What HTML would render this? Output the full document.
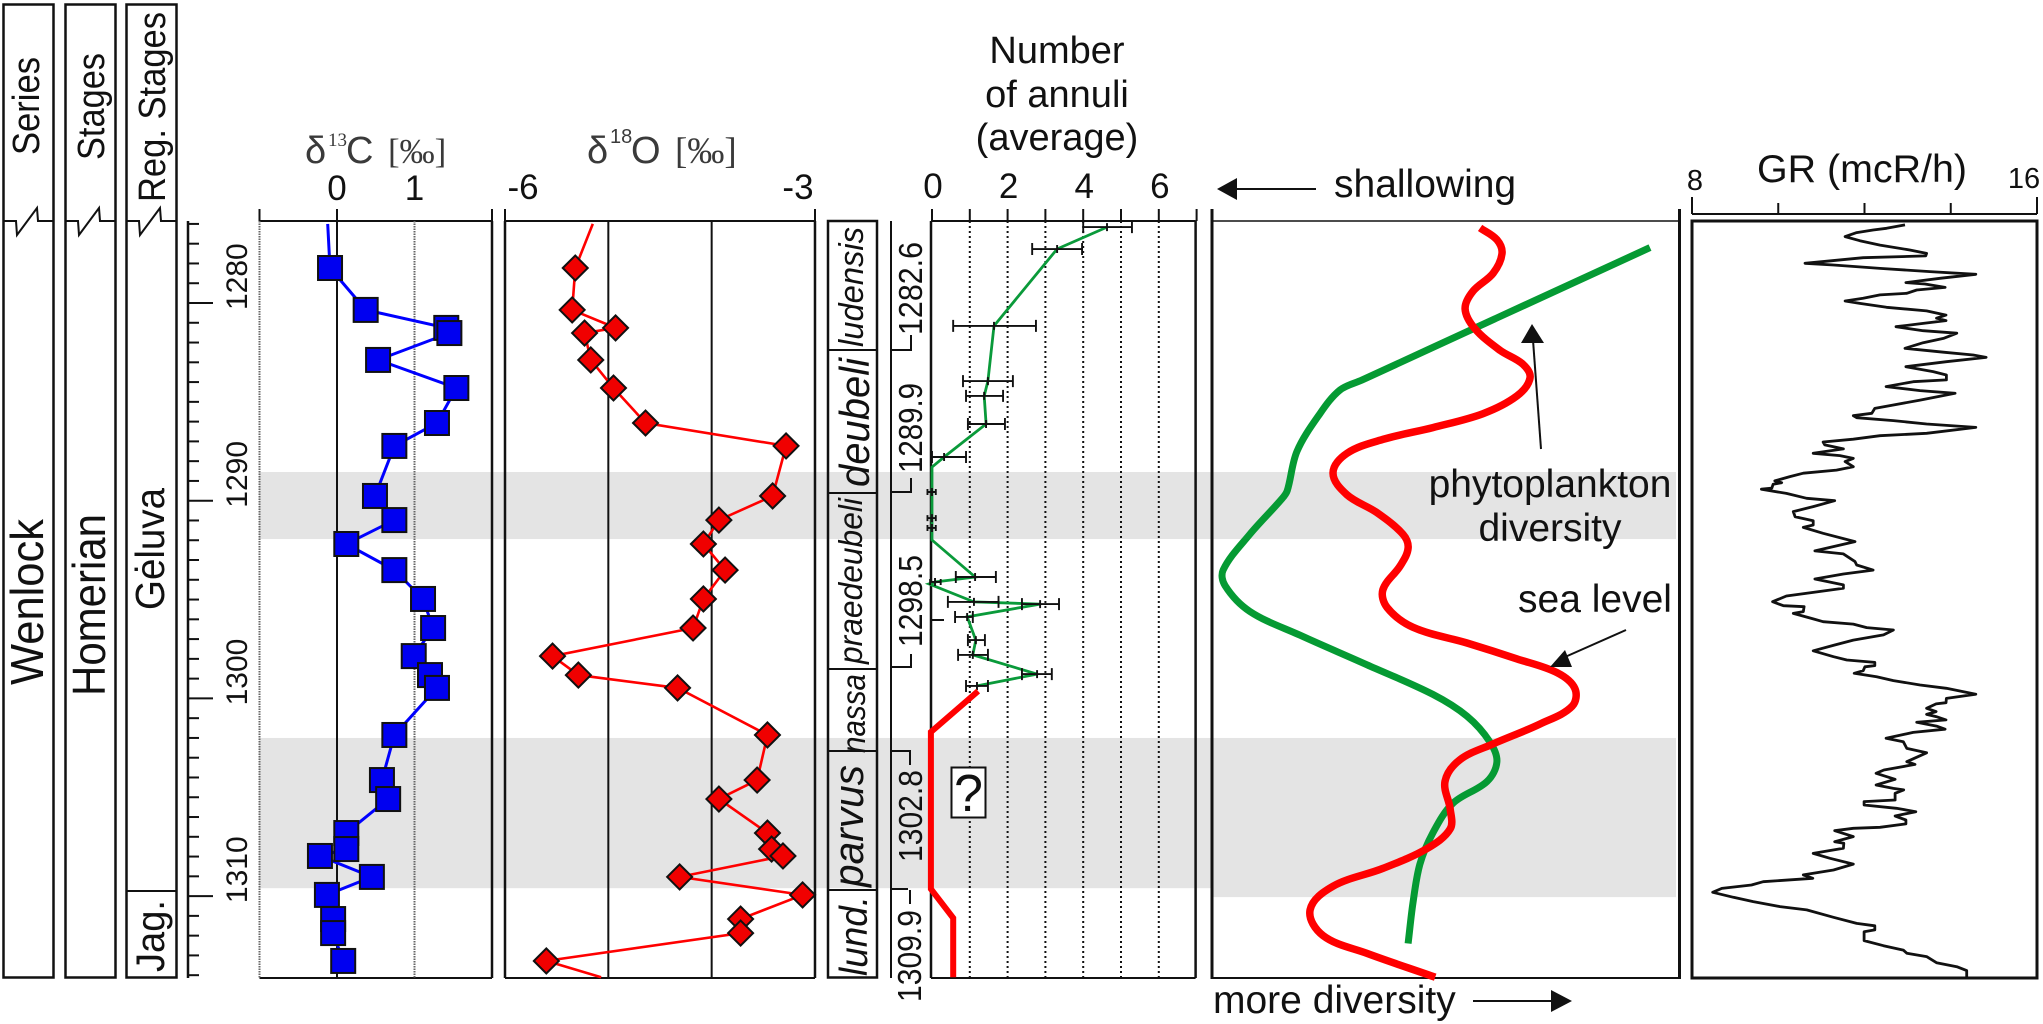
<!DOCTYPE html>
<html lang="en">
<head>
<meta charset="utf-8">
<title>Wenlock Homerian composite log</title>
<style>
html,body{margin:0;padding:0;background:#fff;width:2043px;height:1024px;overflow:hidden}
svg{display:block;font-family:"Liberation Sans",sans-serif}
</style>
</head>
<body>
<svg id="chart" xmlns="http://www.w3.org/2000/svg" width="2043" height="1024" viewBox="0 0 2043 1024">
  <g id="bands"></g>

  <g fill="none" stroke="#111" stroke-width="2.5">
    <rect x="3.5" y="4.5" width="50" height="973"/>
    <rect x="65.5" y="4.5" width="50" height="973"/>
    <rect x="126.5" y="4.5" width="50" height="973"/>
    <line x1="126" y1="891" x2="176" y2="891" stroke-width="2"/>
    <polyline stroke-width="2" points="3,221 16,221 17,235 37,208 38,221 53,221"/>
    <polyline stroke-width="2" points="65,221 78,221 79,235 99,208 100,221 115,221"/>
    <polyline stroke-width="2" points="126,221 139,221 140,235 160,208 161,221 176,221"/>
  </g>
  <g fill="#111">
    <text transform="translate(39,155) rotate(-90)" font-size="38" textLength="98" lengthAdjust="spacingAndGlyphs">Series</text>
    <text transform="translate(104,160) rotate(-90)" font-size="38" textLength="107" lengthAdjust="spacingAndGlyphs">Stages</text>
    <text transform="translate(165,202) rotate(-90)" font-size="38" textLength="190" lengthAdjust="spacingAndGlyphs">Reg. Stages</text>
    <text transform="translate(43,685) rotate(-90)" font-size="46" textLength="166" lengthAdjust="spacingAndGlyphs">Wenlock</text>
    <text transform="translate(105,696) rotate(-90)" font-size="46" textLength="182" lengthAdjust="spacingAndGlyphs">Homerian</text>
    <text transform="translate(164,610) rotate(-90)" font-size="41" textLength="122" lengthAdjust="spacingAndGlyphs">Gėluva</text>
    <text transform="translate(164,972) rotate(-90)" font-size="40" textLength="72" lengthAdjust="spacingAndGlyphs">Jag.</text>
  </g>

  <g id="depthAxis"></g>

  <g id="c13Axis"></g>
  <text x="305" y="163" font-size="38" fill="#3a3a3a">δ<tspan x="328" y="146" font-size="19" font-family="Liberation Serif">13</tspan><tspan x="346" y="163">C</tspan><tspan x="388" y="163" font-size="35" font-family="Liberation Serif">[‰]</tspan></text>
  <g id="c13Series"></g>

  <g id="o18Axis"></g>
  <text x="587" y="163" font-size="38" fill="#3a3a3a">δ<tspan x="610" y="143" font-size="20">18</tspan><tspan x="631" y="163">O</tspan><tspan x="675" y="163" font-size="37" font-family="Liberation Serif">[‰]</tspan></text>
  <g id="o18Series"></g>

  <g>
    <rect x="828" y="221" width="49" height="756.5" fill="none" stroke="#111" stroke-width="2.5"/>
    <g stroke="#111" stroke-width="2">
      <line x1="828" y1="350" x2="877" y2="350"/>
      <line x1="828" y1="493" x2="877" y2="493"/>
      <line x1="828" y1="669" x2="877" y2="669"/>
      <line x1="828" y1="751" x2="877" y2="751"/>
      <line x1="828" y1="890" x2="877" y2="890"/>
    </g>
    <g fill="#111" font-style="italic">
      <text transform="translate(863,347) rotate(-90)" font-size="34" textLength="120" lengthAdjust="spacingAndGlyphs">ludensis</text>
      <text transform="translate(869,487) rotate(-90)" font-size="42" textLength="129" lengthAdjust="spacingAndGlyphs">deubeli</text>
      <text transform="translate(862,664) rotate(-90)" font-size="33" textLength="166" lengthAdjust="spacingAndGlyphs">praedeubeli</text>
      <text transform="translate(865,753) rotate(-90)" font-size="33" textLength="79" lengthAdjust="spacingAndGlyphs">nassa</text>
      <text transform="translate(863,887) rotate(-90)" font-size="42" textLength="122" lengthAdjust="spacingAndGlyphs">parvus</text>
      <text transform="translate(867,976) rotate(-90)" font-size="39" textLength="80" lengthAdjust="spacingAndGlyphs">lund.</text>
    </g>
  </g>

  <g>
    <line x1="891" y1="221" x2="891" y2="978" stroke="#111" stroke-width="2"/>
    <g fill="none" stroke="#111" stroke-width="2">
      <polyline points="891,350 911,350 911,335"/>
      <polyline points="891,492 911,492 911,478"/>
      <polyline points="891,667 911,667 911,654"/>
      <polyline points="891,751 910,751 910,765"/>
      <polyline points="891,889 908,889"/>
      <line x1="910" y1="890" x2="910" y2="904"/>
      <line x1="931" y1="620" x2="944" y2="620"/>
    </g>
    <g fill="#111" font-size="33">
      <text transform="translate(922,335) rotate(-90)" textLength="93" lengthAdjust="spacingAndGlyphs">1282.6</text>
      <text transform="translate(922,473) rotate(-90)" textLength="90" lengthAdjust="spacingAndGlyphs">1289.9</text>
      <text transform="translate(922,647) rotate(-90)" textLength="92" lengthAdjust="spacingAndGlyphs">1298.5</text>
      <text transform="translate(922,862) rotate(-90)" textLength="92" lengthAdjust="spacingAndGlyphs">1302.8</text>
      <text transform="translate(921,1002) rotate(-90)" textLength="92" lengthAdjust="spacingAndGlyphs">1309.9</text>
    </g>
  </g>

  <g id="annuliAxis"></g>
  <g fill="#111" font-size="38" text-anchor="middle">
    <text x="1057" y="63">Number</text>
    <text x="1057" y="107">of annuli</text>
    <text x="1057" y="150">(average)</text>
  </g>
  <g id="annuliSeries"></g>
  <g>
    <rect x="951.5" y="767.5" width="34" height="50" fill="#fff" stroke="#111" stroke-width="2"/>
    <text x="968.5" y="811" font-size="52" text-anchor="middle" fill="#111">?</text>
  </g>

  <g>
    <g stroke="#111" fill="none">
      <line x1="1212" y1="221" x2="1680" y2="221" stroke-width="1.5"/>
      <line x1="1212" y1="978" x2="1680" y2="978" stroke-width="2"/>
      <line x1="1212" y1="209" x2="1212" y2="979" stroke-width="3"/>
      <line x1="1679.5" y1="209" x2="1679.5" y2="979" stroke-width="3"/>
    </g>
    <g id="diversitySeries"></g>
    <g>
      <line x1="1316" y1="189" x2="1235" y2="189" stroke="#111" stroke-width="2"/>
      <polygon points="1217,189 1237,178 1237,200" fill="#111"/>
      <text x="1334" y="197" font-size="39" fill="#111">shallowing</text>
      <text x="1213" y="1013" font-size="39" fill="#111">more diversity</text>
      <line x1="1473" y1="1001" x2="1553" y2="1001" stroke="#111" stroke-width="2"/>
      <polygon points="1572,1001 1551,990 1551,1012" fill="#111"/>
      <line x1="1541" y1="449" x2="1533" y2="340" stroke="#111" stroke-width="2"/>
      <polygon points="1532,324 1521,343 1544,343" fill="#111"/>
      <text x="1550" y="497" font-size="39" fill="#111" text-anchor="middle">phytoplankton</text>
      <text x="1550" y="541" font-size="39" fill="#111" text-anchor="middle">diversity</text>
      <text x="1518" y="612" font-size="39" fill="#111">sea level</text>
      <line x1="1626" y1="630" x2="1565" y2="657" stroke="#111" stroke-width="2"/>
      <polygon points="1550,667 1565,650 1572,667" fill="#111"/>
    </g>
  </g>

  <g>
    <rect x="1692" y="221" width="345" height="757" fill="none" stroke="#111" stroke-width="3"/>
    <g id="grAxis"></g>
    <text x="1757" y="182" font-size="39" fill="#111" textLength="210" lengthAdjust="spacingAndGlyphs">GR (mcR/h)</text>
    <g id="grSeries"></g>
  </g>
</svg>

<script>
// ---- data ----
const bandTop = [1288.55, 1302.0];
const bandBottomLeft = [1291.94, 1309.6];
const bandBottomRight = [1291.94, 1310.05];
const depthTickLabels = [1280, 1290, 1300, 1310];
const depthDomain = [1276, 1314];

const sampleDepths = [1276.0,1278.23,1280.35,1281.26,1281.52,1282.88,1284.30,1286.07,1287.23,1289.76,1290.98,1292.19,1293.51,1294.97,1296.44,1297.86,1298.82,1299.47,1301.85,1304.13,1305.09,1306.81,1307.62,1307.97,1309.03,1309.94,1311.16,1311.87,1313.28,1314.1];
const c13Values = [-0.12,-0.09,0.37,1.41,1.45,0.53,1.54,1.29,0.74,0.49,0.74,0.12,0.74,1.11,1.24,0.99,1.20,1.29,0.74,0.58,0.66,0.12,0.12,-0.22,0.45,-0.13,-0.05,-0.05,0.08];
const o18Values = [-5.15,-5.32,-5.35,-4.93,-5.23,-5.17,-4.95,-4.64,-3.28,-3.41,-3.93,-4.08,-3.87,-4.08,-4.18,-5.54,-5.29,-4.33,-3.46,-3.56,-3.93,-3.46,-3.42,-3.31,-4.31,-3.12,-3.72,-3.72,-5.60,-5.07];
const c13TickLabels = [0, 1];
const o18TickLabels = [-6, -3];
const o18GridValues = [-5, -4];

const annuliDepths = [1276.16,1277.27,1281.16,1283.95,1284.70,1286.12,1287.79,1288.30,1289.56,1290.88,1291.38,1291.99,1293.86,1294.11,1294.21,1295.12,1295.23,1295.88,1297.05,1297.80,1298.77,1299.37];
const annuliMeans = [4.63,3.31,1.64,1.48,1.38,1.43,0.32,0,0,0,0,0,1.14,0.08,-0.08,1.11,2.86,0.93,1.16,1.08,2.78,1.19];
const annuliLow = [4.0,2.65,0.56,0.82,0.9,0.95,0,null,-0.12,-0.12,-0.12,null,0.63,-0.05,null,0.42,2.38,0.61,0.95,0.69,2.38,0.9];
const annuliHigh = [5.29,3.97,2.75,2.14,1.88,1.93,0.9,null,0.1,0.1,0.1,null,1.69,0.23,null,1.76,3.36,1.08,1.40,1.48,3.17,1.48];
const annuliUnknownDepths = [1299.63,1301.7,1309.64,1311.11,1314.1];
const annuliUnknownValues = [1.22,-0.03,-0.03,0.56,0.56];
const annuliTickLabels = [0,2,4,6];
const annuliGridValues = [1,2,3,4,5,6];
const annuliTickValues = [0,1,2,3,4,5,6,7];

const diversityDepths = [1277.2,1280.8,1283.9,1284.4,1285.6,1287.5,1289.5,1289.9,1291.7,1293.5,1294.3,1295.6,1296.8,1298.3,1299.8,1300.9,1302.2,1303.2,1304.2,1305.3,1306.8,1308.4,1310.4,1312.4];
const diversityValues = [93.8,60.6,32.1,27.4,23.1,18.2,16.1,15.0,8.1,2.4,2.8,8.1,18.8,33.2,47.3,54.6,59.5,61.0,58.9,51.6,47.3,44.5,43.0,42.0];
const seaLevelDepths = [1276.2,1276.8,1277.5,1278.5,1279.4,1280.3,1281.3,1282.4,1283.1,1283.8,1284.7,1285.6,1286.3,1286.9,1287.6,1288.6,1289.7,1290.6,1291.7,1292.4,1293.3,1294.5,1295.4,1296.4,1297.2,1298.0,1298.7,1299.5,1300.4,1301.3,1302.3,1303.1,1304.2,1305.6,1306.6,1307.6,1308.6,1309.5,1310.7,1312.0,1312.9,1314.1];
const seaLevelValues = [57.4,61.0,62.1,60.2,55.9,54.2,56.3,61.7,66.6,68.1,65.3,58.0,47.3,36.6,28.9,25.9,28.9,35.3,40.9,42.0,40.3,36.6,37.5,43.0,54.6,65.3,73.9,77.7,77.1,70.2,60.2,53.1,49.9,51.0,51.0,46.0,36.6,25.9,21.0,23.8,33.2,47.8];

const grTickLabels = [8,16];
const grTickValues = [8,10,12,14,16];
const grDepths = [1276.05,1276.22,1276.31,1276.44,1276.64,1276.85,1277.07,1277.32,1277.49,1277.62,1277.71,1277.99,1278.08,1278.25,1278.41,1278.55,1278.75,1278.97,1279.04,1279.21,1279.34,1279.51,1279.59,1279.76,1279.90,1280.02,1280.22,1280.40,1280.61,1280.77,1280.89,1281.03,1281.20,1281.40,1281.53,1281.79,1282.01,1282.29,1282.49,1282.63,1282.75,1282.97,1283.22,1283.47,1283.64,1283.89,1283.98,1284.23,1284.43,1284.57,1284.91,1285.16,1285.33,1285.58,1285.70,1285.80,1285.95,1286.12,1286.29,1286.59,1286.71,1286.89,1287.03,1287.18,1287.38,1287.60,1287.72,1287.86,1288.02,1288.28,1288.45,1288.61,1288.78,1289.00,1289.09,1289.17,1289.37,1289.42,1289.63,1289.88,1290.00,1290.30,1290.55,1290.81,1291.01,1291.23,1291.35,1291.65,1292.07,1292.54,1292.69,1293.08,1293.25,1293.51,1293.71,1293.96,1294.26,1294.43,1294.64,1294.82,1295.11,1295.31,1295.36,1295.61,1295.70,1295.98,1296.12,1296.24,1296.42,1296.54,1296.79,1297.05,1297.30,1297.59,1297.89,1298.06,1298.18,1298.34,1298.40,1298.60,1298.73,1298.90,1299.10,1299.32,1299.49,1299.79,1300.00,1300.22,1300.28,1300.50,1300.67,1300.81,1300.92,1301.09,1301.21,1301.40,1301.56,1301.72,1302.02,1302.19,1302.53,1302.75,1303.20,1303.34,1303.62,1303.79,1304.09,1304.38,1304.55,1304.63,1304.80,1305.14,1305.22,1305.39,1305.56,1305.73,1305.95,1306.15,1306.35,1306.52,1306.57,1306.69,1306.99,1307.25,1307.33,1307.58,1307.84,1308.09,1308.38,1308.68,1308.93,1309.10,1309.27,1309.44,1309.61,1309.81,1310.06,1310.28,1310.53,1310.70,1311.07,1311.38,1311.50,1311.71,1311.80,1312.25,1312.51,1312.73,1312.89,1313.06,1313.37,1313.57,1313.77,1314.07];
const grValues = [12.94,12.51,12.20,11.82,11.55,11.89,12.36,13.05,13.44,13.42,11.97,10.62,11.28,12.36,13.52,14.58,13.75,12.96,13.40,13.87,13.21,12.98,12.36,11.97,11.55,11.89,12.51,13.44,13.89,13.67,13.89,13.36,12.73,13.36,14.14,13.83,13.36,12.94,13.83,14.52,14.82,13.90,12.96,13.59,13.90,13.90,13.13,12.50,13.29,14.10,13.29,12.67,12.24,12.17,11.74,11.82,12.67,13.44,14.58,13.44,12.36,11.74,11.04,11.08,11.51,10.81,11.43,11.74,11.55,11.74,11.35,10.58,10.27,9.92,10.08,9.88,9.85,9.61,10.19,10.66,11.31,10.81,10.35,10.39,10.81,10.81,10.58,11.04,11.78,10.85,11.51,11.78,11.82,12.20,11.51,10.85,11.51,11.51,10.81,10.19,9.87,10.12,10.60,10.58,10.35,10.81,11.04,11.74,12.05,12.67,12.44,11.74,11.31,10.81,11.28,11.59,12.24,12.24,12.01,11.97,11.76,12.28,12.67,13.29,13.90,14.58,13.90,13.89,13.66,13.44,13.66,13.44,13.66,13.89,13.21,13.67,13.87,13.13,12.50,12.90,12.98,13.44,12.98,13.17,12.45,12.27,12.71,12.27,12.67,12.91,12.71,12.71,11.99,11.99,12.74,13.19,12.71,12.96,12.96,12.36,11.74,11.31,11.74,11.31,11.52,11.51,10.81,11.20,11.74,11.28,10.58,10.80,9.65,9.38,8.69,8.48,8.96,9.42,10.04,10.66,11.28,11.82,12.24,12.24,11.99,11.99,12.44,12.90,12.98,13.44,13.67,14.14,14.37,14.37];

// ---- axis functions ----
const yDepth = d => 303 + (d - 1280) * 19.77;
const xC13 = v => 337 + v * 77.5;
const xO18 = v => 505 + (v + 6) * 103.33;
const xAnnuli = v => 932 + v * 37.8;
const xDiversity = v => 1212 + v * 4.67;
const xGR = v => 1692 + (v - 8) * 43.125;

const NS = 'http://www.w3.org/2000/svg';
function make(tag, attrs, parent) {
  const el = document.createElementNS(NS, tag);
  for (const k in attrs) el.setAttribute(k, attrs[k]);
  parent.appendChild(el);
  return el;
}
const byId = id => document.getElementById(id);
function pointsOf(depths, values, xFn) {
  return values.map((v, i) => xFn(v).toFixed(1) + ',' + yDepth(depths[i]).toFixed(1)).join(' ');
}
function smoothPath(depths, values, xFn) {
  const p = values.map((v, i) => [xFn(v), yDepth(depths[i])]);
  const tangent = i => {
    const a = p[Math.max(0, i - 1)], c = p[Math.min(p.length - 1, i + 1)];
    const dx = c[0] - a[0], dy = c[1] - a[1], len = Math.hypot(dx, dy) || 1;
    return [dx / len, dy / len];
  };
  let d = 'M' + p[0][0].toFixed(1) + ' ' + p[0][1].toFixed(1);
  for (let i = 0; i < p.length - 1; i++) {
    const b = p[i], c = p[i + 1];
    const seg = Math.hypot(c[0] - b[0], c[1] - b[1]) / 3;
    const t0 = tangent(i), t1 = tangent(i + 1);
    d += 'C' + (b[0] + t0[0] * seg).toFixed(1) + ' ' + (b[1] + t0[1] * seg).toFixed(1) + ' ' +
      (c[0] - t1[0] * seg).toFixed(1) + ' ' + (c[1] - t1[1] * seg).toFixed(1) + ' ' + c[0].toFixed(1) + ' ' + c[1].toFixed(1);
  }
  return d;
}

// ---- grey bands ----
bandTop.forEach((top, i) => {
  const left = make('rect', {x: 259, y: yDepth(top), width: 953, height: yDepth(bandBottomLeft[i]) - yDepth(top), fill: '#e4e4e4'}, byId('bands'));
  
  
  const right = make('rect', {x: 1212, y: yDepth(top), width: 464, height: yDepth(bandBottomRight[i]) - yDepth(top), fill: '#e4e4e4'}, byId('bands'));
  
  
});

// ---- depth axis ----
const depthLine = make('line', {x1: 188, y1: 221, x2: 188, y2: 978, stroke: '#111', 'stroke-width': 2.5}, byId('depthAxis'));


for (let d = depthDomain[0]; d <= depthDomain[1]; d++) {
  const major = depthTickLabels.includes(d);
  const tick = make('line', {x1: 188, x2: major ? 213 : 199, y1: yDepth(d), y2: yDepth(d), stroke: '#111', 'stroke-width': 2}, byId('depthAxis'));
  
  
}
depthTickLabels.forEach(d => {
  const t = make('text', {transform: 'translate(247,' + (yDepth(d) + 7) + ') rotate(-90)', 'font-size': 30, fill: '#111'}, byId('depthAxis'));
  t.textContent = d;
  
  
});

// ---- axis frames ----
function frame(group, x0, x1, tickXs, leftStyle) {
  const top = make('line', {x1: x0, x2: x1, y1: 221, y2: 221, stroke: '#111', 'stroke-width': 2}, group);
  
  
  const bottom = make('line', {x1: x0, x2: x1, y1: 978, y2: 978, stroke: '#111', 'stroke-width': 2}, group);
  
  
  tickXs.forEach(x => {
    const t = make('line', {x1: x, x2: x, y1: 209, y2: 221, stroke: '#111', 'stroke-width': 2}, group);
    
    
  });
  const l = make('line', Object.assign({x1: x0, x2: x0, y1: 221, y2: 978}, leftStyle), group);
  
  
  const r = make('line', {x1: x1, x2: x1, y1: 221, y2: 978, stroke: '#111', 'stroke-width': 2.5}, group);
  
  
}
function tickText(group, x, y, label, size) {
  const t = make('text', {x: x, y: y, 'font-size': size, 'text-anchor': 'middle', fill: '#111'}, group);
  t.textContent = label;
  
  
}

// carbon isotopes
frame(byId('c13Axis'), xC13(-1), 492, [xC13(-1), xC13(0), 492], {stroke: '#666', 'stroke-width': 2, 'stroke-dasharray': '1.5 1'});
const c13Grid = make('line', {x1: xC13(1), x2: xC13(1), y1: 221, y2: 978, stroke: '#666', 'stroke-width': 2, 'stroke-dasharray': '1.5 1'}, byId('c13Axis'));


const c13Zero = make('line', {x1: xC13(0), x2: xC13(0), y1: 221, y2: 978, stroke: '#111', 'stroke-width': 2}, byId('c13Axis'));


c13TickLabels.forEach(v => tickText(byId('c13Axis'), xC13(v), 200, v, 35));

const c13Line = make('polyline', {points: pointsOf(sampleDepths, c13Values, xC13), fill: 'none', stroke: '#0000ff', 'stroke-width': 3}, byId('c13Series'));


c13Values.forEach((v, i) => {
  if (i === 0) return;
  const m = make('rect', {x: xC13(v) - 12, y: yDepth(sampleDepths[i]) - 12, width: 24, height: 24, fill: '#0000f0', stroke: '#111', 'stroke-width': 2}, byId('c13Series'));
  
  
});

// oxygen isotopes
frame(byId('o18Axis'), xO18(-6), xO18(-3), [xO18(-6), xO18(-3)], {stroke: '#111', 'stroke-width': 2.5});
o18GridValues.forEach(v => {
  const g = make('line', {x1: xO18(v), x2: xO18(v), y1: 221, y2: 978, stroke: '#111', 'stroke-width': 2}, byId('o18Axis'));
  
  
});
o18TickLabels.forEach(v => tickText(byId('o18Axis'), xO18(v) + (v === -6 ? 18 : -17), 199, String(v), 35));

const o18Line = make('polyline', {points: pointsOf(sampleDepths, o18Values, xO18), fill: 'none', stroke: '#ff0000', 'stroke-width': 2.6}, byId('o18Series'));


o18Values.forEach((v, i) => {
  if (i === 0 || i === o18Values.length - 1) return;
  const cx = xO18(v), cy = yDepth(sampleDepths[i]), r = 12.5;
  const m = make('polygon', {points: [cx - r, cy, cx, cy - r, cx + r, cy, cx, cy + r].join(' '), fill: '#f00000', stroke: '#111', 'stroke-width': 2}, byId('o18Series'));
  
  
});

// annuli
frame(byId('annuliAxis'), xAnnuli(0) - 1, xAnnuli(7) - 1, annuliTickValues.map(xAnnuli), {stroke: '#111', 'stroke-width': 2.5});
annuliGridValues.forEach(v => {
  const g = make('line', {x1: xAnnuli(v), x2: xAnnuli(v), y1: 221, y2: 978, stroke: '#111', 'stroke-width': 2, 'stroke-dasharray': '2 3'}, byId('annuliAxis'));
  
  
});
annuliTickLabels.forEach(v => tickText(byId('annuliAxis'), xAnnuli(v) + 1, 198, v, 35));

const annuliLine = make('polyline', {points: pointsOf(annuliDepths, annuliMeans, xAnnuli), fill: 'none', stroke: '#0a9a3a', 'stroke-width': 2.8}, byId('annuliSeries'));


annuliMeans.forEach((v, i) => {
  if (annuliLow[i] === null) return;
  const y = yDepth(annuliDepths[i]);
  const cap = annuliHigh[i] - annuliLow[i] < 0.4 ? 3 : 6;
  const bar = make('path', {d: 'M' + xAnnuli(annuliLow[i]) + ' ' + y + 'H' + xAnnuli(annuliHigh[i]) +
    'M' + xAnnuli(annuliLow[i]) + ' ' + (y - cap) + 'v' + (2 * cap) + 'M' + xAnnuli(annuliHigh[i]) + ' ' + (y - cap) + 'v' + (2 * cap) + 'M' + xAnnuli(v) + ' ' + (y - 4) + 'v8',
    fill: 'none', stroke: '#111', 'stroke-width': 1.9}, byId('annuliSeries'));
  
  
});
const unknownLine = make('polyline', {points: pointsOf(annuliUnknownDepths, annuliUnknownValues, xAnnuli), fill: 'none', stroke: '#ff0000', 'stroke-width': 6}, byId('annuliSeries'));



// diversity curves
const divPath = make('path', {d: smoothPath(diversityDepths, diversityValues, xDiversity), fill: 'none', stroke: '#059a33', 'stroke-width': 7}, byId('diversitySeries'));


const seaPath = make('path', {d: smoothPath(seaLevelDepths, seaLevelValues, xDiversity), fill: 'none', stroke: '#ff0000', 'stroke-width': 7.5}, byId('diversitySeries'));



// gamma ray
const grBase = make('line', {x1: xGR(8), x2: xGR(16), y1: 214, y2: 214, stroke: '#111', 'stroke-width': 2}, byId('grAxis'));


grTickValues.forEach(v => {
  const end = grTickLabels.includes(v);
  const t = make('line', {x1: xGR(v), x2: xGR(v), y1: end ? 197 : 203, y2: 214, stroke: '#111', 'stroke-width': 2}, byId('grAxis'));
  
  
});
grTickLabels.forEach(v => tickText(byId('grAxis'), v === 8 ? xGR(v) + 3 : xGR(v) - 13, v === 8 ? 190 : 188, v, 29));
const grLine = make('polyline', {points: pointsOf(grDepths, grValues, xGR), fill: 'none', stroke: '#111', 'stroke-width': 2.8, 'stroke-linejoin': 'round'}, byId('grSeries'));


</script>
</body>
</html>
